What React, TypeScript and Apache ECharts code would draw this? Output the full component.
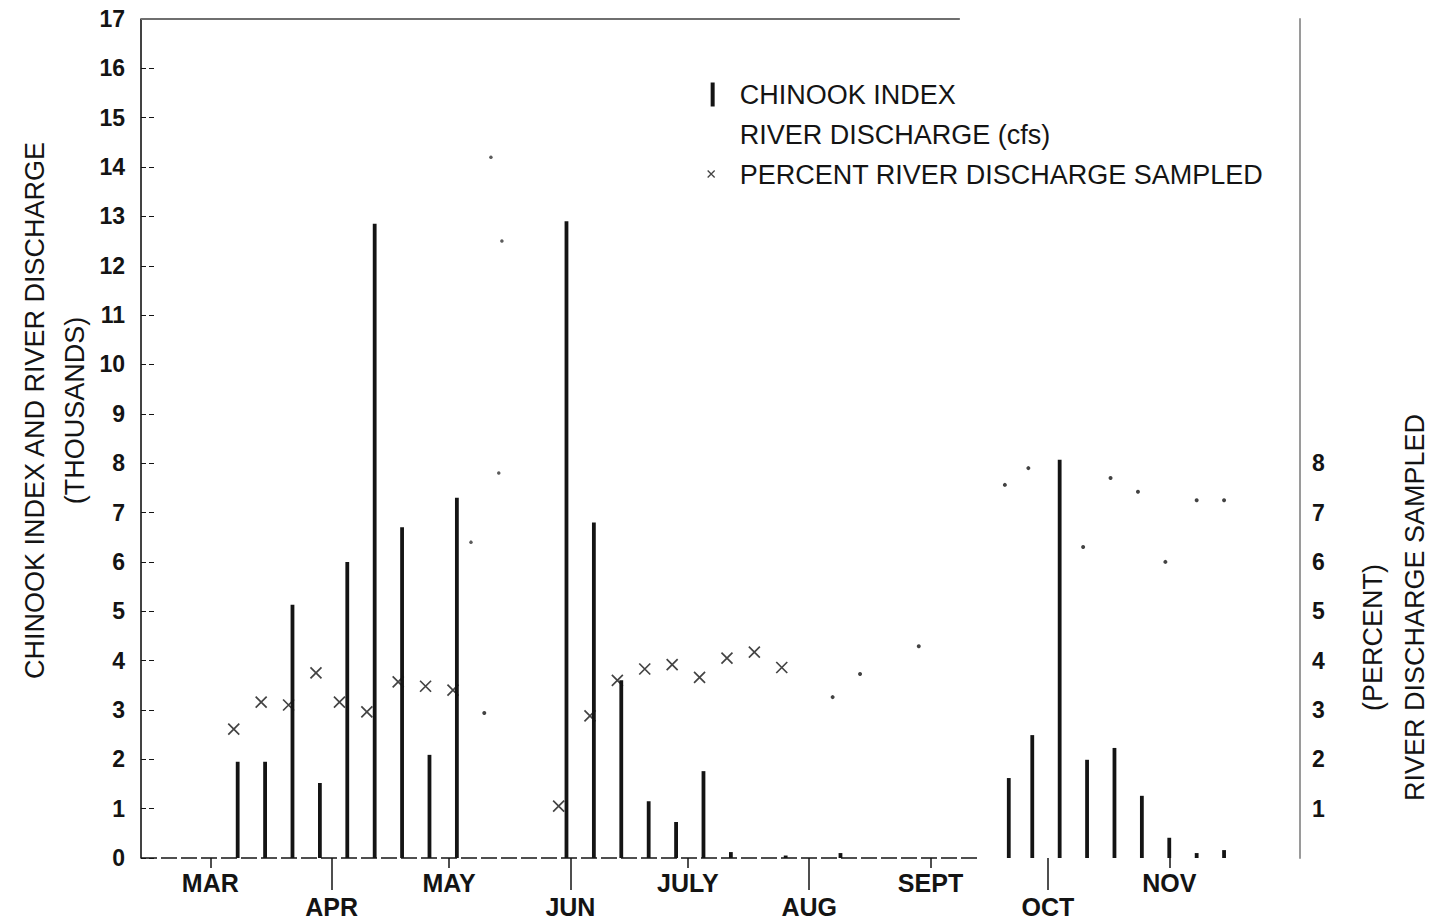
import React, { useEffect, useRef } from 'react';
import * as echarts from 'echarts';

// Day of year (1 Jan = 1) of each weekly Chinook index sample
const weekDays = [67, 74, 81, 88, 95, 102, 109, 116, 123, 130, 137, 144, 151, 158, 165, 172, 179, 186, 193, 200, 207, 214, 221, 228, 235, 242, 249, 256, 264, 270, 277, 284, 291, 298, 305, 312, 319];
// Chinook index (thousands)
const chinookIndex = [1.95, 1.95, 5.13, 1.52, 6.0, 12.85, 6.7, 2.09, 7.3, 0, 0, 0, 12.9, 6.8, 3.6, 1.15, 0.73, 1.76, 0.12, 0, 0.05, 0, 0.1, 0, 0, 0, 0, 0, 1.62, 2.49, 8.07, 1.99, 2.23, 1.26, 0.41, 0.1, 0.16];

// Percent river discharge sampled
const percentDays = [66, 73, 80, 87, 93, 100, 108, 115, 122, 130, 149, 157, 164, 171, 178, 185, 192, 199, 206, 219, 226, 241, 263, 269, 283, 290, 297, 304, 312, 319];
const percentValues = [2.61, 3.16, 3.1, 3.75, 3.16, 2.96, 3.57, 3.48, 3.4, 2.94, 1.05, 2.88, 3.6, 3.83, 3.92, 3.66, 4.05, 4.17, 3.86, 3.26, 3.73, 4.29, 7.56, 7.9, 6.3, 7.7, 7.42, 6.0, 7.25, 7.25];

// River discharge (thousands cfs) - the points still legible on the scan
const dischargeDays = [126.6, 131.7, 133.7, 134.5];
const dischargeValues = [6.4, 14.2, 7.8, 12.5];

// Month ticks (day of year of month start)
const upperMonthDays = [60, 121, 182, 244, 305];
const upperMonthNames = ['MAR', 'MAY', 'JULY', 'SEPT', 'NOV'];
const lowerMonthDays = [91, 152, 213, 274];
const lowerMonthNames = ['APR', 'JUN', 'AUG', 'OCT'];

const leftTicks = [0, 17];
const rightLabelRange = [1, 8];

const X_MIN = 42.3;
const X_MAX = 338.4;
const BASE_END = 256;
const TOP_END = 251.5;

const FONT = '"Liberation Sans", Arial, Helvetica, sans-serif';
const INK = '#141414';
const X_SYMBOL = 'path://M0,0L10,10M10,0L0,10';

export default function App() {
  const ref = useRef<HTMLDivElement>(null);

  useEffect(() => {
    document.body.style.margin = '0';
    const chart = echarts.init(ref.current!, undefined, { renderer: 'svg' });

    const barData = weekDays.map((d, i) => [d, chinookIndex[i]]);
    const dischargeData = dischargeDays.map((d, i) => [d, dischargeValues[i]]);
    const percentData = percentDays.map((d, i) => {
      const isCross = i <= 18 && i !== 9;
      return isCross
        ? { value: [d, percentValues[i]] }
        : {
            value: [d, percentValues[i]],
            symbol: 'circle',
            symbolSize: 4,
            itemStyle: { color: INK, borderWidth: 0 },
          };
    });

    const upperLabel = (v: number) => {
      const i = upperMonthDays.indexOf(v);
      return i >= 0 ? upperMonthNames[i] : '';
    };
    const lowerLabel = (v: number) => {
      const i = lowerMonthDays.indexOf(v);
      return i >= 0 ? lowerMonthNames[i] : '';
    };

    chart.setOption({
      animation: false,
      backgroundColor: '#ffffff',
      textStyle: { fontFamily: FONT },
      grid: {
        left: 141,
        right: 138,
        top: 19,
        bottom: 66,
        containLabel: false,
        outerBoundsMode: 'none',
      },
      legend: {
        orient: 'vertical',
        left: 695,
        top: 76,
        itemWidth: 34,
        itemHeight: 24,
        itemGap: 13,
        selectedMode: false,
        textStyle: { fontSize: 27, color: INK, fontFamily: FONT },
        data: [
          {
            name: 'CHINOOK INDEX',
            icon: 'path://M0,0M10,0h4v24h-4zM34,24',
            itemStyle: { color: INK, borderWidth: 0 },
          },
          {
            name: 'RIVER DISCHARGE (cfs)',
            itemStyle: { opacity: 0 },
          },
          {
            name: 'PERCENT RIVER DISCHARGE SAMPLED',
            icon: 'path://M0,0M7,8L14,15M14,8L7,15M34,24',
            itemStyle: { color: 'transparent', borderColor: INK, borderWidth: 1.3 },
          },
        ],
      },
      xAxis: [
        {
          type: 'value',
          position: 'bottom',
          min: X_MIN,
          max: X_MAX,
          axisLine: { show: false },
          splitLine: { show: false },
          axisTick: {
            show: true,
            customValues: upperMonthDays,
            length: 10,
            lineStyle: { color: INK, width: 1.5 },
          },
          axisLabel: {
            customValues: upperMonthDays,
            formatter: upperLabel,
            margin: 12,
            fontSize: 25,
            fontWeight: 'bold',
            color: INK,
            fontFamily: FONT,
          },
        },
        {
          type: 'value',
          position: 'bottom',
          min: X_MIN,
          max: X_MAX,
          axisLine: { show: false },
          splitLine: { show: false },
          axisTick: {
            show: true,
            customValues: lowerMonthDays,
            length: 32,
            lineStyle: { color: INK, width: 1.5 },
          },
          axisLabel: {
            customValues: lowerMonthDays,
            formatter: lowerLabel,
            margin: 36,
            fontSize: 25,
            fontWeight: 'bold',
            color: INK,
            fontFamily: FONT,
          },
        },
      ],
      yAxis: [
        {
          type: 'value',
          position: 'left',
          min: leftTicks[0],
          max: leftTicks[1],
          interval: 1,
          name: 'CHINOOK INDEX AND RIVER DISCHARGE\n(THOUSANDS)',
          nameLocation: 'middle',
          nameRotate: 90,
          nameGap: 46,
          nameMoveOverlap: false,
          nameTextStyle: {
            fontSize: 27,
            color: INK,
            lineHeight: 40,
            fontFamily: FONT,
            padding: [0, 0, 0, 56],
          },
          axisLine: { show: true, lineStyle: { color: INK, width: 1.6 } },
          axisTick: {
            show: true,
            inside: true,
            length: 16,
            lineStyle: { color: INK, width: 1.2, type: [5, 3] },
          },
          splitLine: { show: false },
          axisLabel: {
            margin: 16,
            fontSize: 23,
            fontWeight: 'bold',
            color: INK,
            fontFamily: FONT,
          },
        },
        {
          type: 'value',
          position: 'right',
          min: leftTicks[0],
          max: leftTicks[1],
          interval: 1,
          name: '{a|(PERCENT)}\n{b|RIVER DISCHARGE SAMPLED}',
          nameLocation: 'middle',
          nameRotate: 90,
          nameGap: 52,
          nameMoveOverlap: false,
          nameTextStyle: {
            fontSize: 27,
            color: INK,
            lineHeight: 42,
            fontFamily: FONT,
            padding: [0, 354, 0, 0],
            rich: {
              a: {
                fontSize: 27,
                color: INK,
                lineHeight: 42,
                fontFamily: FONT,
                padding: [0, 44, 0, 0],
              },
              b: {
                fontSize: 27,
                color: INK,
                lineHeight: 42,
                fontFamily: FONT,
                padding: [0, 0, 0, 16],
              },
            },
          },
          axisLine: { show: true, lineStyle: { color: '#9a9a9a', width: 2 } },
          axisTick: { show: false },
          splitLine: { show: false },
          axisLabel: {
            margin: 12,
            fontSize: 23,
            fontWeight: 'bold',
            color: INK,
            fontFamily: FONT,
            formatter: (v: number) =>
              v >= rightLabelRange[0] && v <= rightLabelRange[1] ? String(v) : '',
          },
        },
      ],
      series: [
        {
          name: 'CHINOOK INDEX',
          type: 'bar',
          xAxisIndex: 0,
          yAxisIndex: 0,
          barWidth: 3.8,
          itemStyle: { color: INK },
          data: barData,
          markLine: {
            silent: true,
            symbol: 'none',
            label: { show: false },
            data: [
              [
                { coord: [X_MIN, 0], lineStyle: { color: INK, width: 1.6, type: [16, 4] } },
                { coord: [BASE_END, 0] },
              ],
              [
                { coord: [X_MIN, 17], lineStyle: { color: '#6f6f6f', width: 1.8, type: 'solid' } },
                { coord: [TOP_END, 17] },
              ],
            ],
          },
        },
        {
          name: 'RIVER DISCHARGE (cfs)',
          type: 'scatter',
          xAxisIndex: 0,
          yAxisIndex: 0,
          symbol: 'circle',
          symbolSize: 3.5,
          itemStyle: { color: '#333333' },
          data: dischargeData,
        },
        {
          name: 'PERCENT RIVER DISCHARGE SAMPLED',
          type: 'scatter',
          xAxisIndex: 0,
          yAxisIndex: 1,
          symbol: X_SYMBOL,
          symbolSize: 11,
          itemStyle: { color: 'transparent', borderColor: INK, borderWidth: 1.7 },
          data: percentData,
        },
      ],
    });

    return () => {
      chart.dispose();
    };
  }, []);

  return <div ref={ref} style={{ width: 1438, height: 924 }} />;
}
